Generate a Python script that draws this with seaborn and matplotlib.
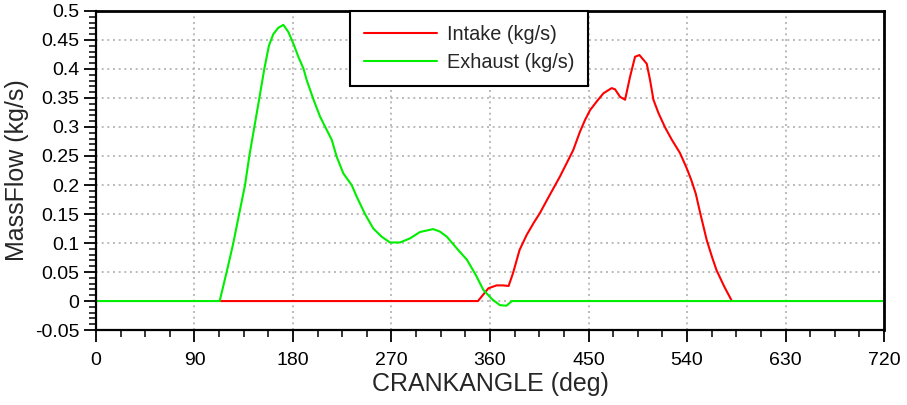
import numpy as np
import pandas as pd
import matplotlib
matplotlib.use('Agg')
import matplotlib.pyplot as plt
import seaborn as sns
from matplotlib.ticker import MultipleLocator

# crank angle (deg) and mass flow (kg/s)
exhaust_deg = [0, 113, 119.4, 125.5, 130.8, 136.2, 140.1, 144.7, 149.3, 153.8, 158, 162,
               166.6, 171.2, 175.7, 180.3, 184.9, 189.5, 192.5, 198.6, 204.7, 210.8,
               215.4, 219.9, 226, 233.6, 238.2, 245.8, 253.4, 261, 268.6, 277.8, 286.9,
               296, 308, 314, 320.5, 330, 339, 347, 354, 362, 369, 375, 380, 720]
exhaust_flow = [0, 0, 0.05, 0.1, 0.15, 0.2, 0.25, 0.3, 0.35, 0.4, 0.44, 0.46,
                0.471, 0.476, 0.464, 0.444, 0.421, 0.401, 0.381, 0.348, 0.318, 0.295,
                0.278, 0.249, 0.22, 0.2, 0.18, 0.15, 0.125, 0.111, 0.101, 0.101, 0.108,
                0.119, 0.124, 0.12, 0.111, 0.09, 0.071, 0.045, 0.019, 0.003, -0.007,
                -0.008, 0, 0]

intake_deg = [114, 349, 358.5, 366, 372, 377, 381, 387, 393.5, 400, 405.7, 412, 424, 436,
              442.2, 446.8, 451.4, 457.5, 463.6, 471.1, 474.2, 478.8, 483.4, 488, 492.5,
              496.5, 503.2, 506.2, 509.3, 513.9, 520, 526.1, 533.6, 539.7, 544, 548,
              552, 558, 563, 567, 574, 581]
intake_flow = [0, 0, 0.022, 0.027, 0.027, 0.026, 0.048, 0.088, 0.114, 0.135, 0.152, 0.174,
               0.215, 0.26, 0.292, 0.312, 0.329, 0.344, 0.358, 0.367, 0.365, 0.352,
               0.347, 0.387, 0.421, 0.424, 0.409, 0.381, 0.347, 0.324, 0.299, 0.278,
               0.255, 0.229, 0.208, 0.185, 0.152, 0.105, 0.075, 0.053, 0.025, 0]

df = pd.concat([
    pd.DataFrame({'deg': intake_deg, 'flow': intake_flow, 'serie': 'Intake (kg/s)'}),
    pd.DataFrame({'deg': exhaust_deg, 'flow': exhaust_flow, 'serie': 'Exhaust (kg/s)'}),
])

sns.set_style('ticks')
plt.rcParams['font.family'] = ['Liberation Sans', 'DejaVu Sans']

fig = plt.figure(figsize=(9.07, 4.05), dpi=100)
ax = fig.add_axes([0.1058, 0.185, 0.8689, 0.788])

sns.lineplot(data=df, x='deg', y='flow', hue='serie', estimator=None, sort=False,
             palette={'Intake (kg/s)': '#ff0000', 'Exhaust (kg/s)': '#00ee00'},
             linewidth=1.5, ax=ax)

ax.set_xlim(0, 720)
ax.set_ylim(-0.05, 0.5)
ax.xaxis.set_major_locator(MultipleLocator(90))
ax.xaxis.set_minor_locator(MultipleLocator(22.5))
ax.yaxis.set_minor_locator(MultipleLocator(0.01))
ax.set_yticks(np.arange(-0.05, 0.501, 0.05))
ax.set_yticklabels(['-0.05', '0', '0.05', '0.1', '0.15', '0.2', '0.25', '0.3',
                    '0.35', '0.4', '0.45', '0.5'])

ax.tick_params(which='major', direction='out', length=8.6, width=1.3, labelsize=14,
               colors='black')
ax.tick_params(axis='x', which='major', pad=7)
ax.tick_params(axis='y', which='major', pad=3.5)
ax.tick_params(which='minor', direction='out', length=5, width=1.1, colors='black')

ax.grid(True, which='major', linestyle=(0, (1.2, 2.2)), color='#b0b0b0', linewidth=1.2)
for s in ax.spines.values():
    s.set_color('black')
    s.set_linewidth(1.6)
ax.spines['top'].set_linewidth(2)
ax.spines['right'].set_linewidth(2)

ax.set_xlabel('CRANKANGLE (deg)', fontsize=18, labelpad=2)
ax.set_ylabel('MassFlow (kg/s)', fontsize=18, labelpad=4)

leg = ax.legend(loc='upper left', bbox_to_anchor=(0.322, 1.0), borderaxespad=0,
                fontsize=14.3, handlelength=3.7, fancybox=False, framealpha=1,
                edgecolor='black', borderpad=0.7, labelspacing=0.45, handletextpad=0.5)
leg.get_frame().set_linewidth(1.5)
for line in leg.get_lines():
    line.set_linewidth(1.5)

plt.savefig('out.png', dpi=100)
